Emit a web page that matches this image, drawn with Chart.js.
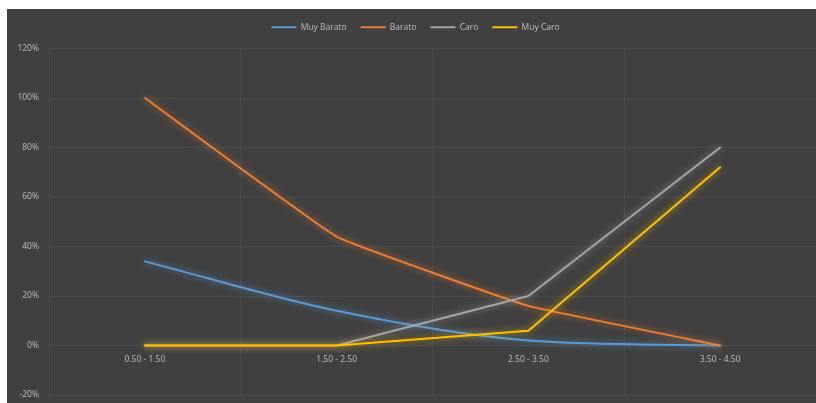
<!DOCTYPE html>
<html>
<head>
<meta charset="utf-8">
<script src="https://cdn.jsdelivr.net/npm/chart.js@4/dist/chart.umd.min.js"></script>
<style>
html,body{margin:0;padding:0;background:#ffffff;width:816px;height:403px;overflow:hidden;}
#wrap{position:absolute;left:7px;top:9px;width:809px;height:394px;background:#404040;}
</style>
</head>
<body>
<div id="wrap"><canvas id="c" width="809" height="394"></canvas></div>
<script>
const categories = ["0.50 - 1.50", "1.50 - 2.50", "2.50 - 3.50", "3.50 - 4.50"];
const muyBarato = [34, 14, 2, 0];
const barato = [100, 44, 16, 0];
const caro = [0, 0, 20, 80];
const muyCaro = [0, 0, 6, 72];
const yTicks = [-20, 0, 20, 40, 60, 80, 100, 120];

const glow = {
  id: 'glow',
  afterInit(chart) {
    const lg = chart.legend;
    if (lg) {
      const fit = lg.fit;
      lg.fit = function() { fit.call(this); this.height += 7; };
    }
  },
  beforeDatasetDraw(chart, args) {
    const ds = chart.data.datasets[args.index];
    chart.ctx.save();
    chart.ctx.shadowColor = ds.glowColor;
    chart.ctx.shadowBlur = 7;
  },
  afterDatasetDraw(chart) {
    chart.ctx.restore();
  }
};

const font = {family: "'Open Sans', 'Liberation Sans', sans-serif", size: 8.5};
const textColor = '#bfbfbf';

new Chart(document.getElementById('c'), {
  type: 'line',
  data: {
    labels: categories,
    datasets: [
      {label: 'Muy Barato', data: muyBarato, order: 3, borderColor: '#5B9BD5', backgroundColor: '#5B9BD5', glowColor: 'rgba(91,155,213,0.8)', cubicInterpolationMode: 'monotone'},
      {label: 'Barato', data: barato, order: 2, borderColor: '#ED7D31', backgroundColor: '#ED7D31', glowColor: 'rgba(237,125,49,0.8)', tension: 0.08},
      {label: 'Caro', data: caro, order: 1, borderColor: '#A5A5A5', backgroundColor: '#A5A5A5', glowColor: 'rgba(165,165,165,0.8)', tension: 0},
      {label: 'Muy Caro', data: muyCaro, order: 0, borderColor: '#FFC000', backgroundColor: '#FFC000', glowColor: 'rgba(255,192,0,0.8)', tension: 0}
    ].map(d => Object.assign({borderWidth: 2, pointRadius: 0, pointHoverRadius: 0, fill: false, borderCapStyle: 'round', borderJoinStyle: 'round'}, d))
  },
  options: {
    responsive: false,
    animation: false,
    layout: {padding: {top: 0, right: -8, bottom: 8, left: 0}},
    plugins: {
      legend: {
        position: 'top',
        labels: {
          boxWidth: 25, boxHeight: 2, padding: 14, color: textColor, font: font,
          sort: (a, b) => a.datasetIndex - b.datasetIndex,
          generateLabels(chart) {
            const items = Chart.defaults.plugins.legend.labels.generateLabels(chart);
            items.forEach(it => { it.lineWidth = 0; it.strokeStyle = 'rgba(0,0,0,0)'; });
            return items;
          }
        }
      },
      tooltip: {enabled: false}
    },
    scales: {
      x: {
        type: 'category',
        position: {y: 0},
        offset: true,
        grid: {offset: true, color: '#4b4b4b', drawTicks: false, lineWidth: 1},
        border: {display: false},
        ticks: {color: textColor, font: font, padding: 9, maxRotation: 0},
        afterFit(scale) { scale.paddingLeft = 0; scale.paddingRight = 0; }
      },
      y: {
        min: -20, max: 120,
        afterBuildTicks(scale) { scale.ticks = yTicks.map(v => ({value: v})); },
        afterFit(scale) { scale.width = 42; scale.paddingTop = 0; scale.paddingBottom = 0; },
        grid: {color: '#4b4b4b', drawTicks: false},
        border: {display: false},
        ticks: {color: textColor, font: font, padding: 10, callback: v => v + '%'}
      }
    }
  },
  plugins: [glow]
});
</script>
</body>
</html>
